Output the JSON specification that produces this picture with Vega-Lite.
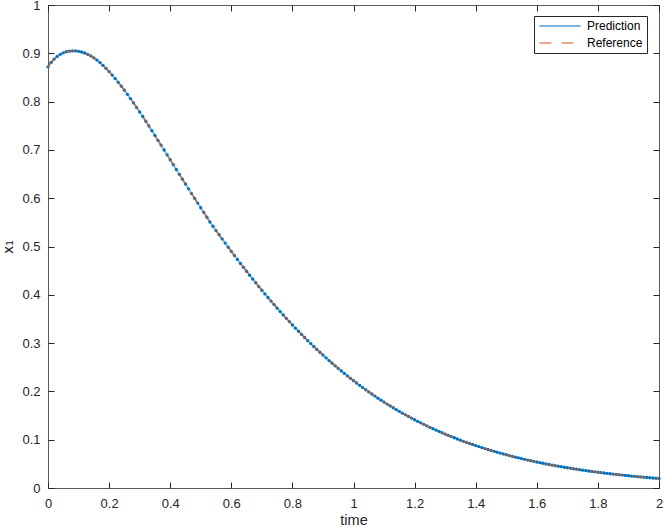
{
  "$schema": "https://vega.github.io/schema/vega-lite/v6.json",
  "width": 611,
  "height": 483,
  "autosize": {"type": "none"},
  "padding": {"left": 48, "top": 5, "right": 5, "bottom": 41},
  "background": "white",
  "config": {
    "font": "Liberation Sans",
    "view": {"stroke": "#5a5a5a", "strokeWidth": 1, "fill": "white"},
    "axis": {
      "grid": false,
      "domain": false,
      "labelFlush": false,
      "tickColor": "#262626",
      "tickSize": -6,
      "tickWidth": 1,
      "labelColor": "#262626",
      "labelFont": "Liberation Sans",
      "labelFontSize": 13,
      "titleColor": "#262626",
      "titleFont": "Liberation Sans",
      "titleFontSize": 14.5,
      "titleFontWeight": "normal"
    }
  },
  "data": {
    "values": [
      {"t": 0.00, "x1": 0.872}, {"t": 0.01, "x1": 0.881}, {"t": 0.02, "x1": 0.888}, {"t": 0.03, "x1": 0.8935}, {"t": 0.04, "x1": 0.8978},
      {"t": 0.05, "x1": 0.901}, {"t": 0.06, "x1": 0.9032}, {"t": 0.07, "x1": 0.9045}, {"t": 0.08, "x1": 0.905}, {"t": 0.09, "x1": 0.9049},
      {"t": 0.10, "x1": 0.9041}, {"t": 0.11, "x1": 0.9027}, {"t": 0.12, "x1": 0.9006}, {"t": 0.13, "x1": 0.8979}, {"t": 0.14, "x1": 0.8946},
      {"t": 0.15, "x1": 0.8906}, {"t": 0.16, "x1": 0.886}, {"t": 0.17, "x1": 0.8808}, {"t": 0.18, "x1": 0.875}, {"t": 0.19, "x1": 0.8688},
      {"t": 0.20, "x1": 0.8621}, {"t": 0.21, "x1": 0.855}, {"t": 0.22, "x1": 0.8476}, {"t": 0.23, "x1": 0.8399}, {"t": 0.24, "x1": 0.8319},
      {"t": 0.25, "x1": 0.8236}, {"t": 0.26, "x1": 0.815}, {"t": 0.27, "x1": 0.8062}, {"t": 0.28, "x1": 0.7972}, {"t": 0.29, "x1": 0.788},
      {"t": 0.30, "x1": 0.7786}, {"t": 0.31, "x1": 0.7691}, {"t": 0.32, "x1": 0.7594}, {"t": 0.33, "x1": 0.7497}, {"t": 0.34, "x1": 0.7398},
      {"t": 0.35, "x1": 0.7299}, {"t": 0.36, "x1": 0.7199}, {"t": 0.37, "x1": 0.7099}, {"t": 0.38, "x1": 0.6998}, {"t": 0.39, "x1": 0.6897},
      {"t": 0.40, "x1": 0.6796}, {"t": 0.41, "x1": 0.6695}, {"t": 0.42, "x1": 0.6594}, {"t": 0.43, "x1": 0.6494}, {"t": 0.44, "x1": 0.6394},
      {"t": 0.45, "x1": 0.6294}, {"t": 0.46, "x1": 0.6194}, {"t": 0.47, "x1": 0.6095}, {"t": 0.48, "x1": 0.5997}, {"t": 0.49, "x1": 0.5899},
      {"t": 0.50, "x1": 0.5802}, {"t": 0.51, "x1": 0.5705}, {"t": 0.52, "x1": 0.5606}, {"t": 0.53, "x1": 0.5507}, {"t": 0.54, "x1": 0.5419},
      {"t": 0.55, "x1": 0.533}, {"t": 0.56, "x1": 0.5243}, {"t": 0.57, "x1": 0.5156}, {"t": 0.58, "x1": 0.507}, {"t": 0.59, "x1": 0.4984},
      {"t": 0.60, "x1": 0.4899}, {"t": 0.61, "x1": 0.4815}, {"t": 0.62, "x1": 0.4732}, {"t": 0.63, "x1": 0.4649}, {"t": 0.64, "x1": 0.4568},
      {"t": 0.65, "x1": 0.4487}, {"t": 0.66, "x1": 0.4407}, {"t": 0.67, "x1": 0.4327}, {"t": 0.68, "x1": 0.4249}, {"t": 0.69, "x1": 0.4171},
      {"t": 0.70, "x1": 0.4094}, {"t": 0.71, "x1": 0.4019}, {"t": 0.72, "x1": 0.3944}, {"t": 0.73, "x1": 0.387}, {"t": 0.74, "x1": 0.3797},
      {"t": 0.75, "x1": 0.3724}, {"t": 0.76, "x1": 0.3653}, {"t": 0.77, "x1": 0.3583}, {"t": 0.78, "x1": 0.3513}, {"t": 0.79, "x1": 0.3445},
      {"t": 0.80, "x1": 0.3377}, {"t": 0.81, "x1": 0.331}, {"t": 0.82, "x1": 0.3245}, {"t": 0.83, "x1": 0.318}, {"t": 0.84, "x1": 0.3116},
      {"t": 0.85, "x1": 0.3053}, {"t": 0.86, "x1": 0.2991}, {"t": 0.87, "x1": 0.293}, {"t": 0.88, "x1": 0.287}, {"t": 0.89, "x1": 0.2811},
      {"t": 0.90, "x1": 0.2753}, {"t": 0.91, "x1": 0.2696}, {"t": 0.92, "x1": 0.2639}, {"t": 0.93, "x1": 0.2584}, {"t": 0.94, "x1": 0.253},
      {"t": 0.95, "x1": 0.2476}, {"t": 0.96, "x1": 0.2424}, {"t": 0.97, "x1": 0.2372}, {"t": 0.98, "x1": 0.2321}, {"t": 0.99, "x1": 0.2271},
      {"t": 1.00, "x1": 0.2222}, {"t": 1.01, "x1": 0.2174}, {"t": 1.02, "x1": 0.2126}, {"t": 1.03, "x1": 0.208}, {"t": 1.04, "x1": 0.2034},
      {"t": 1.05, "x1": 0.199}, {"t": 1.06, "x1": 0.1946}, {"t": 1.07, "x1": 0.1903}, {"t": 1.08, "x1": 0.186}, {"t": 1.09, "x1": 0.1819},
      {"t": 1.10, "x1": 0.1778}, {"t": 1.11, "x1": 0.1738}, {"t": 1.12, "x1": 0.1699}, {"t": 1.13, "x1": 0.1661}, {"t": 1.14, "x1": 0.1623},
      {"t": 1.15, "x1": 0.1587}, {"t": 1.16, "x1": 0.155}, {"t": 1.17, "x1": 0.1515}, {"t": 1.18, "x1": 0.148}, {"t": 1.19, "x1": 0.1447},
      {"t": 1.20, "x1": 0.1413}, {"t": 1.21, "x1": 0.1381}, {"t": 1.22, "x1": 0.1349}, {"t": 1.23, "x1": 0.1318}, {"t": 1.24, "x1": 0.1287},
      {"t": 1.25, "x1": 0.1257}, {"t": 1.26, "x1": 0.1228}, {"t": 1.27, "x1": 0.1199}, {"t": 1.28, "x1": 0.1171}, {"t": 1.29, "x1": 0.1144},
      {"t": 1.30, "x1": 0.1117}, {"t": 1.31, "x1": 0.109}, {"t": 1.32, "x1": 0.1065}, {"t": 1.33, "x1": 0.104}, {"t": 1.34, "x1": 0.1015},
      {"t": 1.35, "x1": 0.0991}, {"t": 1.36, "x1": 0.0967}, {"t": 1.37, "x1": 0.0944}, {"t": 1.38, "x1": 0.0922}, {"t": 1.39, "x1": 0.09},
      {"t": 1.40, "x1": 0.0878}, {"t": 1.41, "x1": 0.0857}, {"t": 1.42, "x1": 0.0837}, {"t": 1.43, "x1": 0.0817}, {"t": 1.44, "x1": 0.0797},
      {"t": 1.45, "x1": 0.0778}, {"t": 1.46, "x1": 0.0759}, {"t": 1.47, "x1": 0.0741}, {"t": 1.48, "x1": 0.0723}, {"t": 1.49, "x1": 0.0706},
      {"t": 1.50, "x1": 0.0688}, {"t": 1.51, "x1": 0.0672}, {"t": 1.52, "x1": 0.0655}, {"t": 1.53, "x1": 0.0639}, {"t": 1.54, "x1": 0.0624},
      {"t": 1.55, "x1": 0.0609}, {"t": 1.56, "x1": 0.0594}, {"t": 1.57, "x1": 0.0579}, {"t": 1.58, "x1": 0.0565}, {"t": 1.59, "x1": 0.0551},
      {"t": 1.60, "x1": 0.0538}, {"t": 1.61, "x1": 0.0525}, {"t": 1.62, "x1": 0.0512}, {"t": 1.63, "x1": 0.0499}, {"t": 1.64, "x1": 0.0487},
      {"t": 1.65, "x1": 0.0475}, {"t": 1.66, "x1": 0.0463}, {"t": 1.67, "x1": 0.0452}, {"t": 1.68, "x1": 0.0441}, {"t": 1.69, "x1": 0.043},
      {"t": 1.70, "x1": 0.0419}, {"t": 1.71, "x1": 0.0409}, {"t": 1.72, "x1": 0.0399}, {"t": 1.73, "x1": 0.0389}, {"t": 1.74, "x1": 0.0379},
      {"t": 1.75, "x1": 0.037}, {"t": 1.76, "x1": 0.0361}, {"t": 1.77, "x1": 0.0352}, {"t": 1.78, "x1": 0.0343}, {"t": 1.79, "x1": 0.0335},
      {"t": 1.80, "x1": 0.0326}, {"t": 1.81, "x1": 0.0318}, {"t": 1.82, "x1": 0.031}, {"t": 1.83, "x1": 0.0303}, {"t": 1.84, "x1": 0.0295},
      {"t": 1.85, "x1": 0.0288}, {"t": 1.86, "x1": 0.0281}, {"t": 1.87, "x1": 0.0274}, {"t": 1.88, "x1": 0.0267}, {"t": 1.89, "x1": 0.026},
      {"t": 1.90, "x1": 0.0254}, {"t": 1.91, "x1": 0.0247}, {"t": 1.92, "x1": 0.0241}, {"t": 1.93, "x1": 0.0235}, {"t": 1.94, "x1": 0.0229},
      {"t": 1.95, "x1": 0.0223}, {"t": 1.96, "x1": 0.0218}, {"t": 1.97, "x1": 0.0212}, {"t": 1.98, "x1": 0.0207}, {"t": 1.99, "x1": 0.0202},
      {"t": 2.00, "x1": 0.0197}
    ]
  },
  "resolve": {"axis": {"x": "independent", "y": "independent"}},
  "layer": [
    {
      "mark": {"type": "line", "strokeWidth": 2, "strokeOpacity": 0.45},
      "encoding": {
        "x": {
          "field": "t", "type": "quantitative",
          "scale": {"domain": [0, 2], "nice": false, "zero": false},
          "axis": {"title": "time", "values": [0, 0.2, 0.4, 0.6, 0.8, 1, 1.2, 1.4, 1.6, 1.8, 2], "format": "~g", "labelPadding": 15, "titlePadding": 3}
        },
        "y": {
          "field": "x1", "type": "quantitative",
          "scale": {"domain": [0, 1], "nice": false},
          "axis": {"title": "x₁", "titleFont": "DejaVu Sans", "titleFontSize": 14, "values": [0, 0.1, 0.2, 0.3, 0.4, 0.5, 0.6, 0.7, 0.8, 0.9, 1], "format": "~g", "labelPadding": 14, "titlePadding": 6}
        },
        "color": {
          "datum": "Prediction", "type": "nominal",
          "scale": {"domain": ["Prediction", "Reference"], "range": ["#0072BD", "#D95319"]},
          "legend": {
            "title": null, "orient": "none", "legendX": 486, "legendY": 11,
            "symbolType": "stroke", "symbolSize": 1700, "symbolStrokeWidth": 2, "symbolOpacity": 0.5,
            "labelFontSize": 12, "labelColor": "#000000", "labelFont": "Liberation Sans",
            "strokeColor": "#262626", "fillColor": "white", "padding": 4, "rowPadding": 5, "clipHeight": 12, "labelOffset": 5,
            "labelExpr": "datum.label + '      '"
          }
        },
        "strokeDash": {
          "datum": "Prediction", "type": "nominal",
          "scale": {"domain": ["Prediction", "Reference"], "range": [[1, 0], [12, 10]]},
          "legend": {
            "title": null, "orient": "none", "legendX": 486, "legendY": 11,
            "symbolType": "stroke", "symbolSize": 1700, "symbolStrokeWidth": 2, "symbolOpacity": 0.5,
            "labelFontSize": 12, "labelColor": "#000000", "labelFont": "Liberation Sans",
            "strokeColor": "#262626", "fillColor": "white", "padding": 4, "rowPadding": 5, "clipHeight": 12, "labelOffset": 5,
            "labelExpr": "datum.label + '      '"
          }
        }
      }
    },
    {
      "mark": {"type": "point", "filled": true, "size": 11, "color": "#0072BD", "opacity": 1},
      "encoding": {
        "x": {"field": "t", "type": "quantitative", "axis": {"orient": "top", "labels": false, "title": null, "values": [0, 0.2, 0.4, 0.6, 0.8, 1, 1.2, 1.4, 1.6, 1.8, 2]}},
        "y": {"field": "x1", "type": "quantitative", "axis": {"orient": "right", "labels": false, "title": null, "values": [0, 0.1, 0.2, 0.3, 0.4, 0.5, 0.6, 0.7, 0.8, 0.9, 1]}}
      }
    },
    {
      "mark": {"type": "line", "strokeWidth": 1.3, "strokeOpacity": 0.75},
      "encoding": {
        "x": {"field": "t", "type": "quantitative", "axis": null},
        "y": {"field": "x1", "type": "quantitative", "axis": null},
        "color": {"datum": "Reference", "type": "nominal"},
        "strokeDash": {"datum": "Reference", "type": "nominal"}
      }
    }
  ]
}
